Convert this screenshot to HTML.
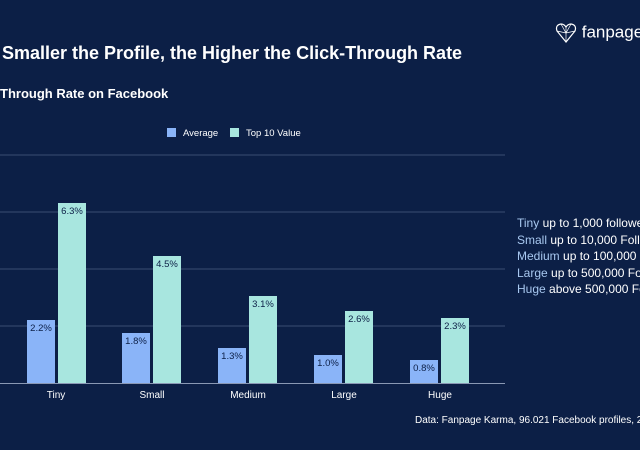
<!DOCTYPE html><html><head><style>
html,body{margin:0;width:640px;height:450px;overflow:hidden}
body{background:#0c1f46;font-family:"Liberation Sans",sans-serif;color:#fff}
.w{position:relative;width:640px;height:450px;overflow:hidden}
.a{position:absolute;white-space:nowrap}
</style></head><body><div class="w">
<div class="a" style="left:2px;top:43px;font-size:18px;font-weight:bold">Smaller the Profile, the Higher the Click-Through Rate</div>
<div class="a" style="left:0;top:86px;font-size:13px;font-weight:bold">Through Rate on Facebook</div>
<div class="a" style="left:555px;top:22px;font-size:17px;">
<svg width="22" height="22" viewBox="0 0 22 22" style="vertical-align:middle"><path d="M11 20L2 9Q0 3 6 2Q9 2 11 5Q13 2 16 2Q22 3 20 9Z" fill="none" stroke="#fff" stroke-width="1.2"/><path d="M6 2L11 11L16 2M2 9L11 11L20 9M11 5V20" stroke="#fff" stroke-width="0.7" fill="none"/></svg> fanpage</div>
<svg class="a" style="left:0;top:0" width="640" height="450">
<g stroke="#3a4d72" stroke-width="1"><line x1="0" x2="505" y1="155" y2="155"/><line x1="0" x2="505" y1="212" y2="212"/><line x1="0" x2="505" y1="269" y2="269"/><line x1="0" x2="505" y1="326" y2="326"/></g>
<line x1="0" x2="505" y1="383.5" y2="383.5" stroke="#8a98b4"/>
<rect x="167" y="128" width="9" height="9" fill="#8ab4f8"/><text x="183" y="136" font-size="9.5" fill="#fff">Average</text>
<rect x="230" y="128" width="9" height="9" fill="#a8e6df"/><text x="246" y="136" font-size="9.5" fill="#fff">Top 10 Value</text>
<g font-size="9.5" fill="#0c1f46" text-anchor="middle">
<rect x="27" y="320" width="28" height="63" fill="#8ab4f8"/><text x="41" y="331">2.2%</text>
<rect x="58" y="203" width="28" height="180" fill="#a8e6df"/><text x="72" y="214">6.3%</text>
<rect x="122" y="333" width="28" height="50" fill="#8ab4f8"/><text x="136" y="344">1.8%</text>
<rect x="153" y="256" width="28" height="127" fill="#a8e6df"/><text x="167" y="267">4.5%</text>
<rect x="218" y="348" width="28" height="35" fill="#8ab4f8"/><text x="232" y="359">1.3%</text>
<rect x="249" y="296" width="28" height="87" fill="#a8e6df"/><text x="263" y="307">3.1%</text>
<rect x="314" y="355" width="28" height="28" fill="#8ab4f8"/><text x="328" y="366">1.0%</text>
<rect x="345" y="311" width="28" height="72" fill="#a8e6df"/><text x="359" y="322">2.6%</text>
<rect x="410" y="360" width="28" height="23" fill="#8ab4f8"/><text x="424" y="371">0.8%</text>
<rect x="441" y="318" width="28" height="65" fill="#a8e6df"/><text x="455" y="329">2.3%</text>
</g>
<g font-size="10" fill="#fff" text-anchor="middle"><text x="56" y="398">Tiny</text><text x="152" y="398">Small</text><text x="248" y="398">Medium</text><text x="344" y="398">Large</text><text x="440" y="398">Huge</text></g>
</svg>
<div class="a" style="left:517px;top:215px;font-size:12px;line-height:16.5px">
<div><span style="color:#a8c8f0">Tiny</span> up to 1,000 followers</div>
<div><span style="color:#a8c8f0">Small</span> up to 10,000 Followers</div>
<div><span style="color:#a8c8f0">Medium</span> up to 100,000 Followers</div>
<div><span style="color:#a8c8f0">Large</span> up to 500,000 Followers</div>
<div><span style="color:#a8c8f0">Huge</span> above 500,000 Followers</div>
</div>
<div class="a" style="left:415px;top:415px;font-size:10px">Data: Fanpage Karma, 96.021 Facebook profiles, 2020</div>
</div></body></html>
